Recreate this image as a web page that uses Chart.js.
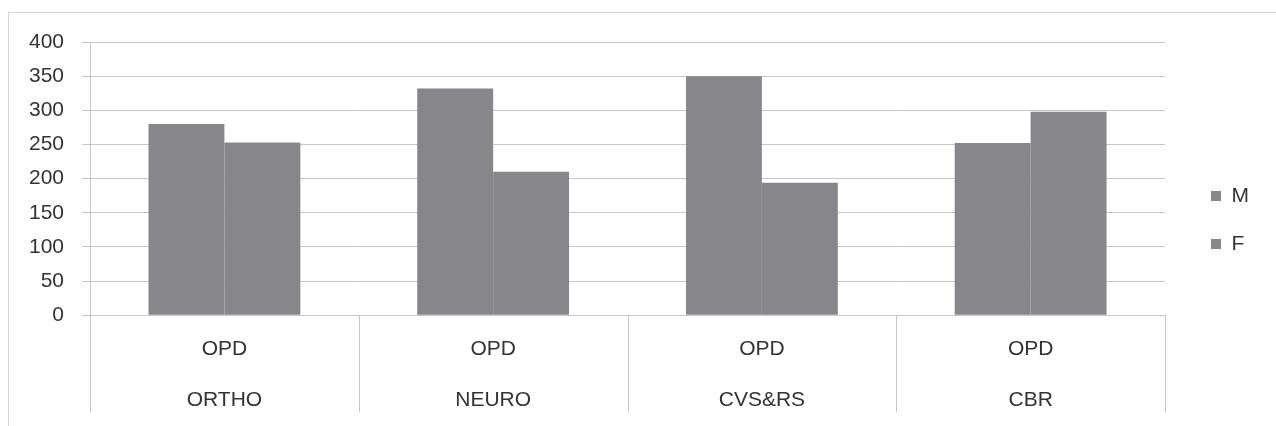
<!DOCTYPE html>
<html>
<head>
<meta charset="utf-8">
<script src="https://cdn.jsdelivr.net/npm/chart.js@4"></script>
<style>
  body { margin: 0; background: #fff; overflow: hidden; }
  #wrap { position: relative; width: 1276px; height: 426px; }
  #frame { position: absolute; left: 8px; top: 12px; width: 1300px; height: 440px; border: 1px solid #d4d4d4; }
  canvas { position: absolute; left: 0; top: 0; }
</style>
</head>
<body>
<div id="wrap">
  <div id="frame"></div>
  <canvas id="opdChart" width="1276" height="426"></canvas>
</div>
<script>
const categories = [['OPD', 'ORTHO'], ['OPD', 'NEURO'], ['OPD', 'CVS&RS'], ['OPD', 'CBR']];
const maleValues = [280, 332, 350, 252];
const femaleValues = [253, 210, 194, 298];

const barGrey = '#87868a';
const gridGrey = '#c6c6c6';
const textColor = '#333333';

// category divider lines running down through the label area, like Excel's multi-level axis
const dividers = {
    id: 'dividers',
    afterDraw(chart) {
        const x = chart.scales.x;
        const c = chart.ctx;
        const step = x.width / categories.length;
        c.save();
        c.strokeStyle = gridGrey;
        c.lineWidth = 1;
        for (let i = 0; i <= categories.length; i++) {
            const px = Math.round(x.left + i * step) + 0.5;
            c.beginPath();
            c.moveTo(px, x.top);
            c.lineTo(px, x.top + 97);
            c.stroke();
        }
        c.restore();
    }
};

const ctx = document.getElementById('opdChart').getContext('2d');

const opdChart = new Chart(ctx, {
    type: 'bar',
    data: {
        labels: categories,
        datasets: [{
            label: 'M',
            data: maleValues,
            backgroundColor: barGrey,
            barPercentage: 1,
            categoryPercentage: 0.565
        }, {
            label: 'F',
            data: femaleValues,
            backgroundColor: barGrey,
            barPercentage: 1,
            categoryPercentage: 0.565
        }]
    },
    options: {
        responsive: false,
        animation: false,
        // top padding kept small so the legend sits a bit higher; the tall y tick lineHeight pushes the plot down to y=42
        layout: { padding: { top: 14, left: 11, right: 17, bottom: 0 } },
        scales: {
            x: {
                grid: { display: false },
                border: { display: true, color: gridGrey },
                ticks: {
                    padding: 1,
                    color: textColor,
                    font: { family: 'Liberation Sans', size: 21, lineHeight: 2.4 }
                }
            },
            y: {
                min: 0,
                max: 400,
                ticks: {
                    stepSize: 50,
                    autoSkip: false,
                    padding: 18,
                    color: textColor,
                    font: { family: 'Liberation Sans', size: 21, lineHeight: 2.29 }
                },
                grid: { tickLength: 8, color: gridGrey },
                border: { display: true, color: gridGrey }
            },
            gap: {
                position: 'right',
                grid: { display: false },
                border: { display: false },
                ticks: { display: false },
                afterFit: scale => { scale.width = 19; }
            }
        },
        plugins: {
            legend: {
                position: 'right',
                labels: {
                    boxWidth: 10,
                    boxHeight: 10,
                    padding: 27,
                    color: textColor,
                    font: { family: 'Liberation Sans', size: 21 }
                }
            },
            tooltip: { enabled: false }
        }
    },
    plugins: [dividers]
});
</script>
</body>
</html>
